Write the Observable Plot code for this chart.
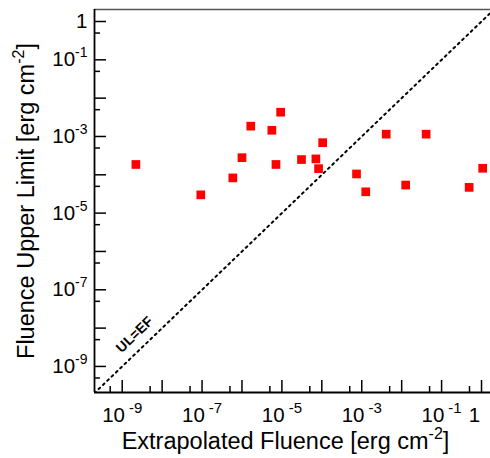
<!DOCTYPE html>
<html>
<head>
<meta charset="utf-8">
<script src="https://cdn.jsdelivr.net/npm/d3@7"></script>
<script src="https://cdn.jsdelivr.net/npm/@observablehq/plot@0.6"></script>
<style>
  html, body { margin: 0; padding: 0; background: #fff; }
  #chart svg { display: block; }
</style>
</head>
<body>
<div id="chart"></div>
<script>
// ---- data ----
const extrapolatedFluence = [2.2e-9, 9.3e-8, 5.9e-7, 1.0e-6, 1.66e-6, 5.6e-6, 9.3e-6, 7.1e-6, 3.1e-5, 7.1e-5, 8.3e-5, 1.05e-4, 7.4e-4, 1.26e-3, 4.1e-3, 1.26e-2, 4.1e-2, 0.49, 1.07];
const upperLimit         = [1.86e-4, 3.0e-5, 8.3e-5, 2.8e-4, 1.86e-3, 1.45e-3, 4.3e-3, 1.86e-4, 2.5e-4, 2.6e-4, 1.45e-4, 6.9e-4, 1.05e-4, 3.6e-5, 1.15e-3, 5.4e-5, 1.15e-3, 4.7e-5, 1.48e-4];

const xDomain = [Math.pow(10, -9.694), Math.pow(10, 0.225)];
const yDomain = [Math.pow(10, -9.68), Math.pow(10, 0.313)];

const majorTicks = [1e-10, 1e-9, 1e-8, 1e-7, 1e-6, 1e-5, 1e-4, 1e-3, 1e-2, 1e-1, 1];
const minorTicks = [5e-10, 5e-9, 5e-8, 5e-7, 5e-6, 5e-5, 5e-4, 5e-3, 5e-2, 5e-1];
const labelTicks = [1e-9, 1e-7, 1e-5, 1e-3, 1e-1, 1];

const diagonal = [1e-11, 10];                 // UL = EF line
const diagLabel = [{x: Math.pow(10, -8.69), y: Math.pow(10, -8.17), text: "UL=EF"}];

const xTitle = "Extrapolated Fluence [erg cm^-2]";
const yTitle = "Fluence Upper Limit [erg cm^-2]";

const points = extrapolatedFluence.map((x, i) => ({x, y: upperLimit[i]}));

const fmt = d => {
  const e = Math.round(Math.log10(d));
  return e === 0 ? "1" : `10^${e}`;
};

const font = "'Liberation Sans', Arial, Helvetica, sans-serif";

const xMajorT = majorTicks.filter(d => d >= xDomain[0] && d <= xDomain[1]);
const xMinorT = minorTicks.filter(d => d >= xDomain[0] && d <= xDomain[1]);
const yMajorT = majorTicks.filter(d => d >= yDomain[0] && d <= yDomain[1]);
const yMinorT = minorTicks.filter(d => d >= yDomain[0] && d <= yDomain[1]);

const chart = Plot.plot({
  width: 490,
  height: 458,
  marginLeft: 94,
  marginRight: 0,
  marginTop: 9,
  marginBottom: 66,
  style: {fontFamily: font, background: "white", color: "black"},
  x: {type: "log", domain: xDomain},
  y: {type: "log", domain: yDomain},
  marks: [
    // frame line on top
    Plot.ruleY([yDomain[1]], {stroke: "#555", strokeWidth: 1.3}),
    // diagonal
    Plot.line(diagonal, {x: d => d, y: d => d, stroke: "black", strokeWidth: 2, strokeDasharray: "2,4", clip: true}),
    Plot.text(diagLabel, {x: "x", y: "y", text: "text", rotate: -44, fontSize: 14, fontWeight: "bold", fill: "black"}),
    // points
    Plot.dot(points, {x: "x", y: "y", symbol: "square", r: 4.9, fill: "#ff0000", stroke: null}),
    // ticks (inward)
    Plot.axisX(xMajorT, {anchor: "bottom", tickSize: -12, tickFormat: () => "", label: null, strokeWidth: 1.5}),
    Plot.axisX(xMinorT, {anchor: "bottom", tickSize: -6, tickFormat: () => "", label: null, strokeWidth: 1.5}),
    Plot.axisY(yMajorT, {anchor: "left", tickSize: -12, tickFormat: () => "", label: null, strokeWidth: 1.5}),
    Plot.axisY(yMinorT, {anchor: "left", tickSize: -6, tickFormat: () => "", label: null, strokeWidth: 1.5}),
    // labels
    Plot.axisX(labelTicks, {anchor: "bottom", tickSize: 0, tickPadding: 15, tickFormat: fmt, fontSize: 21,
      label: xTitle, labelAnchor: "center", labelOffset: 56, labelArrow: "none"}),
    Plot.axisY(labelTicks, {anchor: "left", tickSize: 0, tickPadding: 7, tickFormat: fmt, fontSize: 20,
      label: yTitle, labelAnchor: "center", labelOffset: 77, labelArrow: "none"}),
    // axis lines
    Plot.ruleX([xDomain[0]], {stroke: "black", strokeWidth: 1.8}),
    Plot.ruleY([yDomain[0]], {stroke: "black", strokeWidth: 1.8})
  ]
});

// axis titles at the reference size
const titleNodes = [];
d3.select(chart).selectAll("text").each(function() {
  const s = this.textContent;
  if (s === xTitle || s === yTitle) {
    this.style.fontSize = "23.5px";
    this.parentNode.style.fontSize = "23.5px";
    if (s === xTitle) this.setAttribute("dx", "-7");
    titleNodes.push(this);
  }
});
// tick label sizes
d3.select(chart).selectAll('g[aria-label="x-axis tick label"]').style("font-size", "20.5px");
d3.select(chart).selectAll('g[aria-label="x-axis tick label"] text').style("font-size", "20.5px").each(function() {
  if (this.textContent === "1") this.setAttribute("dx", "-7");
});
d3.select(chart).selectAll('g[aria-label="y-axis tick label"]').style("font-size", "20.5px");
d3.select(chart).selectAll('g[aria-label="y-axis tick label"] text').style("font-size", "20.5px");

// convert "^" exponents into superscript tspans
d3.select(chart).selectAll("text").each(function() {
  const t = this;
  const isTitle = titleNodes.includes(t);
  const isX = t.parentNode && t.parentNode.getAttribute("aria-label") === "x-axis tick label";
  const supSize = isTitle ? 16 : (isX ? 15 : 14);
  const lift = isTitle ? 10 : 9;
  const targets = t.querySelectorAll("tspan").length ? Array.from(t.querySelectorAll("tspan")) : [t];
  targets.forEach(el => {
    const s = el.textContent;
    const m = s.match(/^(.*?)\^(-?\d+)(.*)$/);
    if (!m) return;
    el.textContent = "";
    const ns = "http://www.w3.org/2000/svg";
    el.appendChild(document.createTextNode(m[1]));
    const sup = document.createElementNS(ns, "tspan");
    sup.style.fontSize = supSize + "px";
    sup.setAttribute("dy", String(-lift));
    if (isX) sup.setAttribute("dx", "4");
    sup.textContent = m[2];
    el.appendChild(sup);
    if (m[3]) {
      const rest = document.createElementNS(ns, "tspan");
      rest.setAttribute("dy", String(lift));
      rest.textContent = m[3];
      el.appendChild(rest);
    }
  });
});

document.getElementById("chart").appendChild(chart);
</script>
</body>
</html>
